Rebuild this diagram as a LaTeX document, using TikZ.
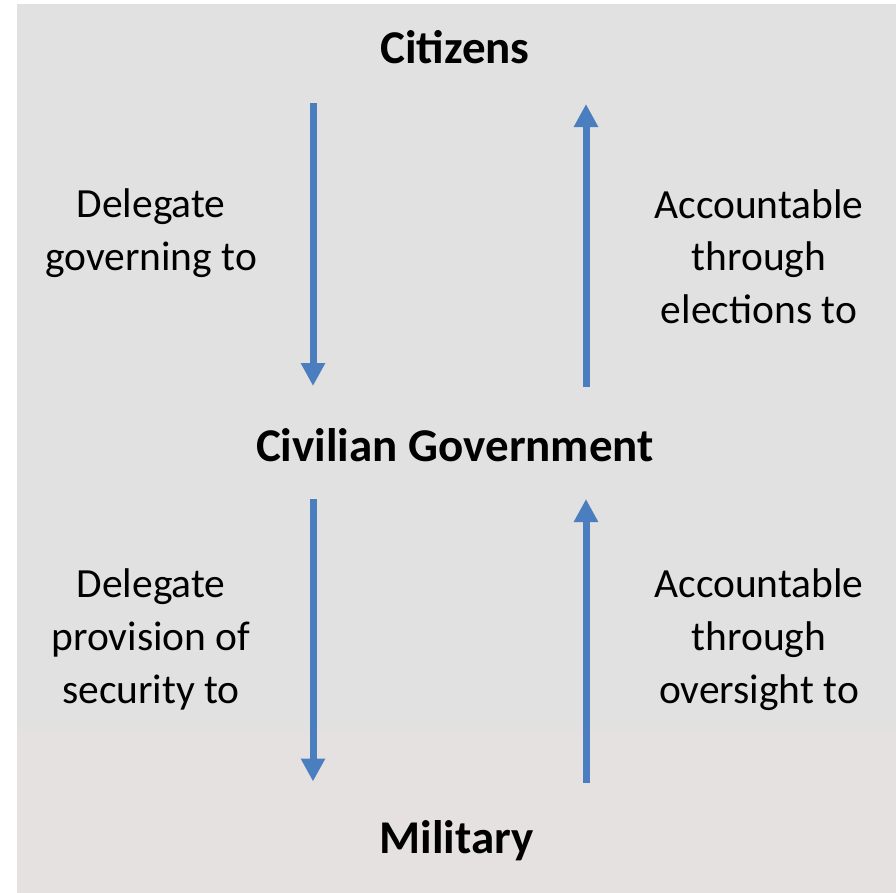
\documentclass[tikz,border=0pt]{standalone}
\usepackage{fontspec}
\setmainfont{Carlito}
\usetikzlibrary{arrows.meta}
\definecolor{bggray}{HTML}{E1E1E1}
\definecolor{bgpink}{HTML}{E6E1E1}
\definecolor{arrowblue}{HTML}{4A7EBF}
\tikzset{
  title/.style={font=\bfseries\fontsize{47bp}{56bp}\selectfont, inner sep=0pt, anchor=base},
  lbl/.style={font=\fontsize{41.5bp}{52.7bp}\selectfont, align=center, inner sep=0pt, anchor=base},
  flow/.style={draw=arrowblue, line width=7bp, -{Triangle[width=23bp,length=23bp]}},
}
\begin{document}
\begin{tikzpicture}[x=1bp,y=-1bp]
\useasboundingbox (0,0) rectangle (896,893);
\fill[white] (0,0) rectangle (896,893);
\fill[bggray] (17,4) rectangle (896,730);
\fill[bgpink] (17,730) rectangle (896,893);
\node[title] (cit) at (455,63) {Citizens};
\node[title] (civ) at (455,461.5) {Civilian Government};
\node[title] (mil) at (456.5,853) {Military};
\node[lbl] (dg) at (151,270.5) {Delegate\\governing to};
\node[lbl] (ae) at (759,323.5) {Accountable\\through\\elections to};
\node[lbl] (dp) at (151,703) {Delegate\\provision of\\security to};
\node[lbl] (ao) at (759,703) {Accountable\\through\\oversight to};
\coordinate (a1s) at (313,103);
\coordinate (a1e) at (313,386);
\coordinate (a2s) at (586,387);
\coordinate (a2e) at (586,104);
\coordinate (a3s) at (313,499);
\coordinate (a3e) at (313,781.5);
\coordinate (a4s) at (586,782.5);
\coordinate (a4e) at (586,499);
\draw[flow] (a1s) -- (a1e);
\draw[flow] (a2s) -- (a2e);
\draw[flow] (a3s) -- (a3e);
\draw[flow] (a4s) -- (a4e);
\end{tikzpicture}
\end{document}
